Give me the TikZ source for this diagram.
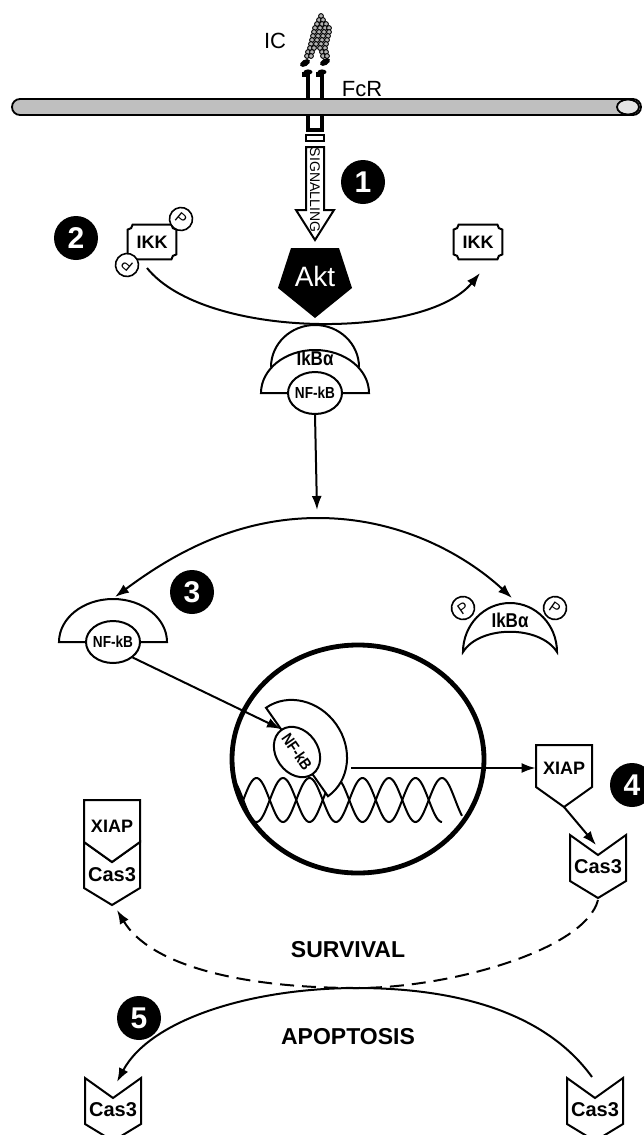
\documentclass[tikz,border=0pt]{standalone}
\usepackage{fontspec}
\usepackage{graphicx}
\setmainfont{Liberation Sans}
\usetikzlibrary{arrows.meta,shapes.geometric,calc}

\newcommand{\cnd}[1]{\scalebox{0.85}[1]{#1}}
\newcommand{\fsz}[1]{\fontsize{#1}{#1}\selectfont}

% box with a pointed lower edge (XIAP); args: centre x, top y (downwards)
\newcommand{\xiapbox}[2]{%
  \draw[shp] ({#1-28},{-#2}) -- ({#1+28},{-#2}) -- ({#1+28},{-(#2+42)})
    -- (#1,{-(#2+62)}) -- ({#1-28},{-(#2+42)}) -- cycle;}
% chevron with notched top and pointed bottom (Cas3); args: centre x, top y
\newcommand{\casbox}[2]{%
  \draw[shp] ({#1-28},{-#2}) -- (#1,{-(#2+20)}) -- ({#1+28},{-#2})
    -- ({#1+28},{-(#2+46)}) -- (#1,{-(#2+63)}) -- ({#1-28},{-(#2+46)}) -- cycle;}
% outline with concave corners around a node (IKK)
\newcommand{\notchbox}[1]{%
  \draw[line width=1pt] ([xshift=2.5pt]#1.north west) -- ([xshift=-2.5pt]#1.north east)
    arc[start angle=180,end angle=270,radius=2.5pt] -- ([yshift=2.5pt]#1.south east)
    arc[start angle=90,end angle=180,radius=2.5pt] -- ([xshift=2.5pt]#1.south west)
    arc[start angle=0,end angle=90,radius=2.5pt] -- ([yshift=-2.5pt]#1.north west)
    arc[start angle=270,end angle=360,radius=2.5pt] -- cycle;}

\begin{document}
\begin{tikzpicture}[x=0.5pt,y=0.5pt,
  ln/.style={line width=1pt},
  shp/.style={line width=1pt, fill=white},
  tipA/.style={-{Latex[length=7pt,width=5pt]}},
  numc/.style={circle, fill=black, text=white, minimum size=22pt, inner sep=0pt,
    font=\fsz{15}\bfseries},
  pcirc/.style={circle, draw, line width=0.8pt, fill=white, minimum size=11.5pt,
    inner sep=0pt, font=\fsz{7.5}},
  nfk/.style={ellipse, draw, line width=1pt, fill=white, minimum width=27pt,
    minimum height=21pt, inner xsep=-3pt, inner ysep=0pt, font=\fsz{8}\bfseries},
  ikk/.style={minimum width=24pt, minimum height=17pt, inner sep=0pt, font=\fsz{9}\bfseries},
  ikba/.style={inner sep=0pt, font=\fsz{10}\bfseries},
  xiap/.style={minimum width=28pt, inner sep=0pt, font=\fsz{9}\bfseries},
  cas/.style={inner sep=0pt, font=\fsz{10}\bfseries},
  plain/.style={inner sep=0pt, font=\fsz{11}},
  big/.style={inner sep=0pt, font=\fsz{11.5}\bfseries}]

\fill[white] (0,0) rectangle (643,-1135);
\useasboundingbox (0,0) rectangle (643,-1135);

% ---------- immune complex ----------
\foreach \yy/\xs in {16/{321}, 20/{319,323}, 24/{317,322,326}, 28/{315,320,325,329},
    32/{314,319,324,329}, 36/{313,318,323,328}, 40/{312,317,322,327},
    44/{311,316,321,326}, 48/{310,314,320,325}, 52/{308,312,322,326}, 56/{307,311,323,327}}
  {\foreach \xx in \xs
    {\draw[fill=gray!60, line width=0.45pt] (\xx,-\yy) circle[radius=2.4];}}
\fill[rotate around={30:(305,-63)}] (305,-63) ellipse[x radius=5.5, y radius=3.2];
\fill[rotate around={30:(325,-62)}] (325,-62) ellipse[x radius=5.5, y radius=3.2];
\node[plain] (ic) at (275,-41) {IC};

% ---------- receptor and membrane ----------
\foreach \sx in {308,322}{
  \draw[line width=2.2pt] (\sx,-72) -- (\sx,-100);
  \fill (\sx,-72) ellipse[x radius=4.5, y radius=2.6];
  \draw[line width=1.6pt] (\sx-4,-72) -- (\sx-4,-77);}
\node[plain] (fcr) at (362,-89) {FcR};
\draw[line width=0.9pt, fill=gray!50] (20,-99) -- (633,-99)
  arc[start angle=90,end angle=-90,radius=8] -- (20,-115)
  arc[start angle=270,end angle=90,radius=8] -- cycle;
\draw[line width=0.9pt, fill=gray!20] (628,-107) ellipse[x radius=11, y radius=7.5];
\draw[line width=2.2pt] (308,-114) -- (308,-130) -- (322,-130) -- (322,-114);
\draw[line width=1pt] (306,-135) rectangle (324,-141);

% ---------- signalling arrow ----------
\draw[line width=1pt, fill=white] (306,-147) -- (324,-147) -- (324,-210) -- (334,-210)
  -- (315,-240) -- (296,-210) -- (306,-210) -- cycle;
\node[rotate=-90, inner sep=0pt, font=\fsz{7}] (sig) at (315,-190) {SIGNALLING};

\node[numc] (n1) at (363,-182) {1};
\node[numc] (n2) at (76,-238) {2};

% ---------- IKK ----------
\node[ikk] (ikkL) at (152,-242) {IKK};
\notchbox{ikkL}
\node[pcirc, rotate=-40] (pA) at (181,-219) {P};
\node[pcirc, rotate=140] (pB) at (127,-265) {P};
\node[ikk] (ikkR) at (478,-242) {IKK};
\notchbox{ikkR}

% ---------- Akt ----------
\fill (291,-248) -- (339,-248) -- (352,-288) -- (315,-318) -- (278,-288) -- cycle;
\node[inner sep=0pt, text=white, font=\fsz{14}] (akt) at (315,-276) {Akt};

\coordinate (arcS) at (147,-268);
\coordinate (arcE) at (480,-273);
\draw[ln, tipA] (arcS) .. controls (205,-340) and (425,-340) .. (arcE);

% ---------- IkBa / NF-kB complex ----------
\draw[line width=1pt, fill=white] (271,-367) arc[start angle=180,end angle=0,x radius=44,y radius=42];
\draw[shp] (261,-393) arc[start angle=180,end angle=0,x radius=54,y radius=43] -- cycle;
\node[ikba] (ikba1) at (315,-358) {\cnd{IkBα}};
\node[nfk] (nfk1) at (315,-393) {\cnd{NF-kB}};

\coordinate (apex3) at (318,-518);
\draw[ln, tipA] (nfk1.south) -- (317,-510);

% ---------- dissociation ----------
\coordinate (d2top) at (115,-597);
\coordinate (crtop) at (512,-598);
\draw[ln, tipA] (apex3) .. controls (230,-518) and (165,-560) .. (d2top);
\draw[ln, tipA] (apex3) .. controls (406,-518) and (471,-560) .. (crtop);
\node[numc] (n3) at (192,-592) {3};

\draw[shp] (59,-642) arc[start angle=180,end angle=0,x radius=54,y radius=43] -- cycle;
\node[nfk] (nfk2) at (113,-642) {\cnd{NF-kB}};

\draw[shp] (463,-652) arc[start angle=180,end angle=0,x radius=47,y radius=49]
  .. controls (540,-625) and (480,-625) .. (463,-652) -- cycle;
\node[ikba] (ikba2) at (510,-620) {\cnd{IkBα}};
\node[pcirc, rotate=35] (pC) at (463,-608) {P};
\node[pcirc, rotate=-35] (pD) at (555,-608) {P};

% ---------- nucleus ----------
\begin{scope}
  \clip (358,-759) ellipse[x radius=124, y radius=112];
  \draw[ln] plot[domain=236:442, samples=180, smooth] (\x, {-800-22*cos((\x-442)*6.7925)});
  \draw[ln] plot[domain=236:462, samples=180, smooth] (\x, {-800+22*cos((\x-442)*6.7925)});
\end{scope}
\begin{scope}[shift={(297,-752)}, rotate=-55]
  \draw[shp] (-54,0) arc[start angle=180,end angle=0,x radius=54,y radius=48] -- cycle;
  \node[nfk, rotate=-55] (nfk3) at (0,0) {\cnd{NF-kB}};
\end{scope}
\node[draw, ellipse, line width=2.4pt, minimum width=126pt, minimum height=114pt,
  inner sep=0pt] (nucleus) at (358,-759) {};
\draw[ln, tipA] (nfk2.south east) -- (nfk3.west);

% ---------- XIAP and caspase 3 ----------
\coordinate (gene) at (351,-768);
\xiapbox{564}{745}
\node[xiap] (xiapR) at (564,-768) {XIAP};
\draw[ln, tipA] (gene) -- (xiapR.west);
\node[numc] (n4) at (632,-785) {4};

\casbox{598}{835}
\node[cas] (casR) at (598,-867) {Cas3};
\coordinate (xiapRtip) at (564,-807);
\coordinate (casRtop) at (596,-845);
\draw[ln, tipA] (xiapRtip) -- (casRtop);

\casbox{112}{842}
\xiapbox{112}{800}
\node[xiap] (xiapL) at (112,-826) {XIAP};
\node[cas] (casL) at (112,-875) {Cas3};

% ---------- survival / apoptosis ----------
\coordinate (casRtip) at (598,-900);
\coordinate (casLtip) at (117,-910);
\draw[ln, dash pattern=on 7pt off 4pt, tipA] (casRtip) .. controls (585,-950) and (450,-988)
  .. (357,-988) .. controls (240,-988) and (150,-965) .. (casLtip);
\node[big] (surv) at (348,-950) {SURVIVAL};

\coordinate (casBRtop) at (592,-1077);
\coordinate (casBLtop) at (117,-1082);
\draw[ln, tipA] (casBRtop) .. controls (540,-1005) and (440,-988)
  .. (357,-988) .. controls (250,-988) and (150,-1020) .. (casBLtop);
\node[big] (apop) at (348,-1037) {APOPTOSIS};
\node[numc] (n5) at (139,-1018) {5};

\casbox{113}{1078}
\node[cas] (casBL) at (113,-1110) {Cas3};
\casbox{595}{1078}
\node[cas] (casBR) at (595,-1110) {Cas3};

\end{tikzpicture}
\end{document}
